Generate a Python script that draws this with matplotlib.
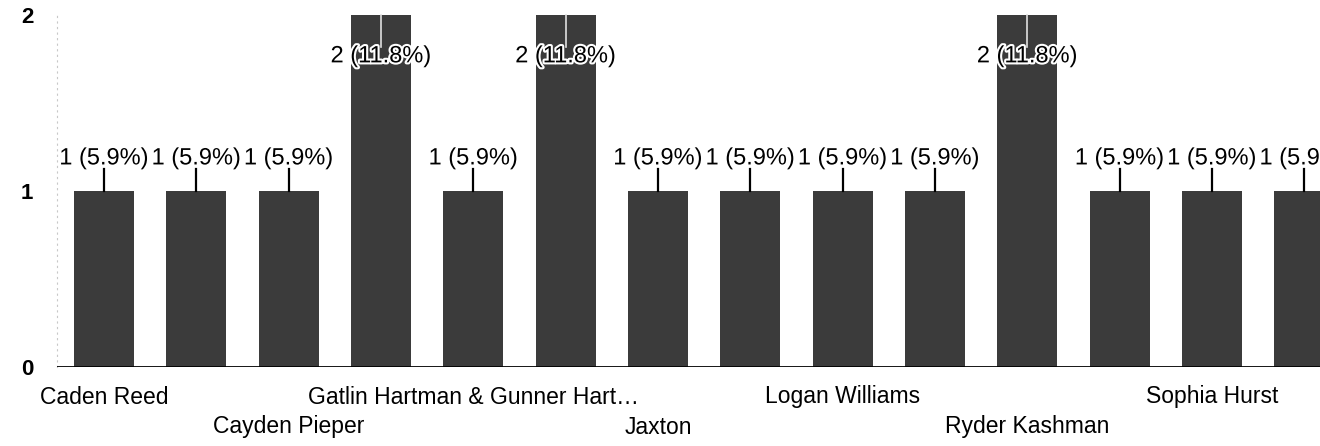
import matplotlib.pyplot as plt
import matplotlib.patheffects as pe

plt.rcParams['font.family'] = ['Liberation Sans', 'DejaVu Sans']

# visible tick labels (every other bar is labelled, the rest are hidden)
names = ["Caden Reed", "", "Cayden Pieper", "", "Gatlin Hartman & Gunner Hart\u2026", "",
         "Jaxton", "", "Logan Williams", "", "Ryder Kashman", "", "Sophia Hurst", ""]
counts = [1, 1, 1, 2, 1, 2, 1, 1, 1, 1, 2, 1, 1, 1]
yticks = [0, 1, 2]

total = sum(counts)
bar_col = '#3b3b3b'
ymax = 2

fig = plt.figure(figsize=(13.2, 4.46), dpi=100)
ax = fig.add_axes([57 / 1320, 1 - 367 / 446, 1 - 57 / 1320, (367 - 15) / 446])

x = list(range(len(counts)))
ax.bar(x, counts, width=0.65, color=bar_col, zorder=2)
ax.set_xlim(-0.51, 13.17)
ax.set_ylim(0, ymax)

# value labels with leader lines
halo = [pe.withStroke(linewidth=3, foreground='white')]
for i, v in zip(x, counts):
    lab = f"{v} ({v / total * 100:.1f}%)"
    if v + 0.3 < ymax:
        ax.plot([i, i], [v, v + 0.125], color='black', lw=1.6, zorder=3)
        ax.text(i, v + 0.185, lab, ha='center', va='center', fontsize=17,
                color='black', path_effects=halo, zorder=4)
    else:
        ax.plot([i, i], [v, v - 0.18], color='#e0e0e0', lw=1.2, zorder=3, clip_on=False)
        ax.text(i, v - 0.235, lab, ha='center', va='center', fontsize=17,
                color='black', path_effects=halo, zorder=4)

# baseline
ax.axhline(0, color='black', lw=2, zorder=3)

# category labels, alternating between two rows
row = 0
for i, name in enumerate(names):
    if not name:
        continue
    off = -21.6 if row == 0 else -43.2
    ax.annotate(name, xy=(i, 0), xycoords=('data', 'axes fraction'),
                xytext=(0, off), textcoords='offset points',
                ha='center', va='center', fontsize=16.5, annotation_clip=False)
    row = 1 - row

ax.set_xticks([])
ax.set_yticks(yticks)
ax.set_yticklabels([str(t) for t in yticks], fontsize=16, fontweight='bold')
ax.tick_params(axis='y', length=0, pad=26)
for lbl in ax.get_yticklabels():
    lbl.set_horizontalalignment('left')
for s in ['top', 'right', 'bottom']:
    ax.spines[s].set_visible(False)
ax.spines['left'].set_color('#c8c8c8')
ax.spines['left'].set_linestyle((0, (1, 4)))
ax.spines['left'].set_linewidth(0.8)

fig.savefig('out.png', dpi=100)
